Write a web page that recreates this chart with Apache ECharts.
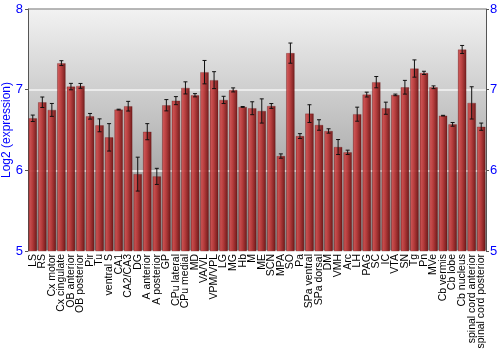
<!DOCTYPE html>
<html><head><meta charset="utf-8">
<script src="https://cdn.jsdelivr.net/npm/echarts@6/dist/echarts.min.js"></script>
<style>html,body{margin:0;padding:0;background:#fff}#c{width:500px;height:350px}</style>
</head><body><div id="c"></div>
<script>
var categories = ["LS","RS","Cx motor","Cx cingulate","OB anterior","OB posterior","Pir","Tu","ventral S","CA1","CA2/CA3","DG","A anterior","A posterior","GP","CPu lateral","CPu medial","MD","VA/VL","VPM/VPL","LG","MG","Hb","M","ME","SCN","MPA","SO","Pa","SPa ventral","SPa dorsal","DM","VMH","Arc","LH","PAG","SC","IC","VTA","SN","Tg","Pn","MVe","Cb vermis","Cb lobe","Cb nucleus","spinal cord anterior","spinal cord posterior"];
var values = [6.645,6.844,6.749,7.329,7.038,7.047,6.67,6.558,6.409,6.753,6.795,5.953,6.479,5.925,6.807,6.864,7.022,6.931,7.217,7.118,6.873,6.997,6.786,6.77,6.736,6.798,6.177,7.453,6.425,6.703,6.562,6.488,6.289,6.223,6.696,6.939,7.093,6.77,6.935,7.03,7.262,7.208,7.03,6.678,6.57,7.498,6.836,6.541];
var errors = [0.04,0.065,0.08,0.03,0.04,0.03,0.035,0.08,0.17,0.005,0.06,0.21,0.1,0.1,0.07,0.05,0.075,0.02,0.145,0.105,0.045,0.025,0.005,0.08,0.15,0.03,0.027,0.125,0.03,0.11,0.065,0.027,0.093,0.027,0.087,0.03,0.07,0.075,0.01,0.085,0.107,0.02,0.017,0.004,0.023,0.05,0.2,0.045];
var yTicks = [5,6,7,8];

var chart = echarts.init(document.getElementById('c'), null, {renderer:'canvas'});
var errData = values.map(function(v,i){return [i, v-errors[i], v+errors[i]];});
var barGrad = new echarts.graphic.LinearGradient(0,0,1,0,[
  {offset:0,color:'#9a2424'},{offset:0.15,color:'#cc4a4a'},{offset:0.45,color:'#b83434'},{offset:1,color:'#6a0e0e'}]);
chart.setOption({
  animation:false,
  grid:{left:28,right:14,top:9,bottom:99,show:true,borderWidth:0,containLabel:false,outerBoundsMode:'none',
    backgroundColor:new echarts.graphic.LinearGradient(0,0,0,1,[{offset:0,color:'#f2f2f2'},{offset:1,color:'#888888'}])},
  xAxis:{type:'category',data:categories,boundaryGap:true,
    axisLine:{show:false},axisTick:{show:false},
    axisLabel:{rotate:90,interval:0,color:'#000',fontSize:10.5,fontFamily:'Liberation Sans',margin:3}},
  yAxis:[
    {type:'value',min:5,max:8,interval:1,position:'left',
     name:'Log2 (expression)',nameLocation:'middle',nameGap:15,nameMoveOverlap:false,
     nameTextStyle:{color:'#0000ff',fontSize:12,fontFamily:'Liberation Sans'},
     axisLine:{show:true,lineStyle:{color:'#555'}},axisTick:{show:true,length:3,lineStyle:{color:'#555'}},
     axisLabel:{color:'#0000ff',fontSize:13,fontFamily:'Liberation Sans',margin:5,
       formatter:function(v){return yTicks.indexOf(v)>=0?String(v):'';}},
     splitLine:{show:true,lineStyle:{color:'#f4f4f4',width:1.5}}},
    {type:'value',min:5,max:8,interval:1,position:'right',
     axisLine:{show:true,lineStyle:{color:'#555'}},axisTick:{show:true,length:3,lineStyle:{color:'#555'}},
     axisLabel:{color:'#0000ff',fontSize:13,fontFamily:'Liberation Sans',margin:4},
     splitLine:{show:false}}
  ],
  graphic:[{type:'line',shape:{x1:28,y1:9,x2:486,y2:9},style:{stroke:'#777',lineWidth:1},z:10}],
  series:[
    {type:'bar',data:values,barWidth:'88%',
     itemStyle:{color:barGrad,opacity:0.92,borderColor:'rgba(90,10,10,0.5)',borderWidth:0.5}},
    {type:'custom',data:errData,z:5,
     renderItem:function(params,api){
       var x=api.coord([api.value(0),api.value(1)])[0];
       var lo=api.coord([api.value(0),api.value(1)])[1];
       var hi=api.coord([api.value(0),api.value(2)])[1];
       var w=2;
       var st={stroke:'#111',lineWidth:1};
       return {type:'group',children:[
         {type:'line',shape:{x1:x,y1:lo,x2:x,y2:hi},style:st},
         {type:'line',shape:{x1:x-w,y1:lo,x2:x+w,y2:lo},style:st},
         {type:'line',shape:{x1:x-w,y1:hi,x2:x+w,y2:hi},style:st}]};
     }}
  ]
});
</script></body></html>
